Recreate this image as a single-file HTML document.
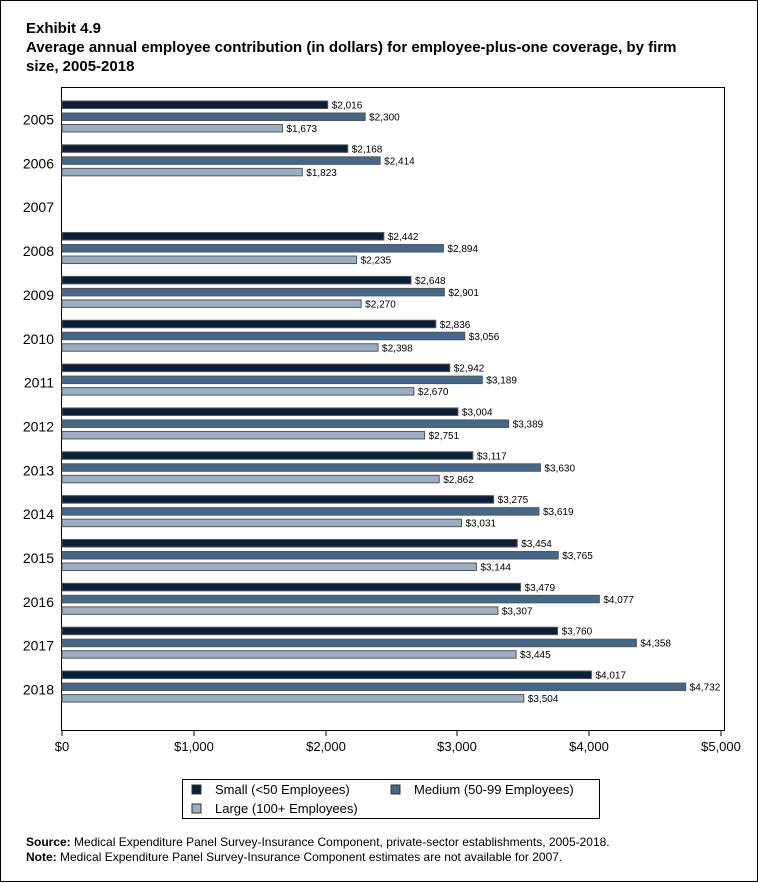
<!DOCTYPE html>
<html><head><meta charset="utf-8"><style>
body{margin:0;background:#fff}
svg{display:block}
text{font-family:"Liberation Sans",Arial,sans-serif}
</style></head><body>
<svg width="758" height="883" viewBox="0 0 758 883" xmlns="http://www.w3.org/2000/svg">
<rect x="0.5" y="0.5" width="757" height="881" fill="#fff" stroke="#000"/>
<text x="26" y="33" font-size="15" font-weight="bold">Exhibit 4.9</text>
<text x="26" y="52" font-size="15" font-weight="bold">Average annual employee contribution (in dollars) for employee-plus-one coverage, by firm</text>
<text x="26" y="71" font-size="15" font-weight="bold">size, 2005-2018</text>
<rect x="61.5" y="87.5" width="663" height="643" fill="none" stroke="#000"/>
<g id="bars"></g>
<g font-size="13" text-anchor="middle" fill="#000">
<line x1="62" y1="731" x2="62" y2="736" stroke="#000"/><text x="62" y="751">$0</text>
<line x1="194" y1="731" x2="194" y2="736" stroke="#000"/><text x="194" y="751">$1,000</text>
<line x1="326" y1="731" x2="326" y2="736" stroke="#000"/><text x="326" y="751">$2,000</text>
<line x1="457" y1="731" x2="457" y2="736" stroke="#000"/><text x="457" y="751">$3,000</text>
<line x1="589" y1="731" x2="589" y2="736" stroke="#000"/><text x="589" y="751">$4,000</text>
<line x1="721" y1="731" x2="721" y2="736" stroke="#000"/><text x="721" y="751">$5,000</text>
</g>
<rect x="182.5" y="779.5" width="417" height="39" fill="#fff" stroke="#000"/>
<rect x="192" y="785" width="9" height="9" fill="#0a1f3a" stroke="#333"/>
<text x="215" y="794" font-size="13">Small (&lt;50 Employees)</text>
<rect x="391" y="785" width="9" height="9" fill="#44678a" stroke="#333"/>
<text x="414" y="794" font-size="13">Medium (50-99 Employees)</text>
<rect x="192" y="804" width="9" height="9" fill="#9aafc4" stroke="#333"/>
<text x="215" y="813" font-size="13">Large (100+ Employees)</text>
<text x="26" y="846" font-size="12"><tspan font-weight="bold">Source:</tspan> Medical Expenditure Panel Survey-Insurance Component, private-sector establishments, 2005-2018.</text>
<text x="26" y="861" font-size="12"><tspan font-weight="bold">Note:</tspan> Medical Expenditure Panel Survey-Insurance Component estimates are not available for 2007.</text>
<g id="yr" font-size="14" text-anchor="end"></g>
</svg>
<script>
const data={2005:[2016,2300,1673],2006:[2168,2414,1823],2007:null,2008:[2442,2894,2235],2009:[2648,2901,2270],2010:[2836,3056,2398],2011:[2942,3189,2670],2012:[3004,3389,2751],2013:[3117,3630,2862],2014:[3275,3619,3031],2015:[3454,3765,3144],2016:[3479,4077,3307],2017:[3760,4358,3445],2018:[4017,4732,3504]};
const cols=["#0a1f3a","#44678a","#9aafc4"],offs=[-15.5,-3.5,8];
const ns="http://www.w3.org/2000/svg";
const bars=document.getElementById("bars"),yr=document.getElementById("yr");
function el(t,a,p,txt){const e=document.createElementNS(ns,t);for(const k in a)e.setAttribute(k,a[k]);if(txt)e.textContent=txt;p.appendChild(e);}
let i=0;
for(const y in data){
 const c=116.5+i*43.85;i++;
 el("text",{x:54,y:c+8},yr,y);
 const d=data[y];if(!d)continue;
 d.forEach((v,j)=>{
  const w=v*0.1318,top=c+offs[j];
  el("rect",{x:62,y:top,width:w,height:7.5,fill:cols[j],stroke:"#555","stroke-width":1},bars);
  el("text",{x:62+w+4,y:top+7.5,"font-size":10},bars,"$"+v.toLocaleString("en-US"));
 });
}
</script>
</body></html>
